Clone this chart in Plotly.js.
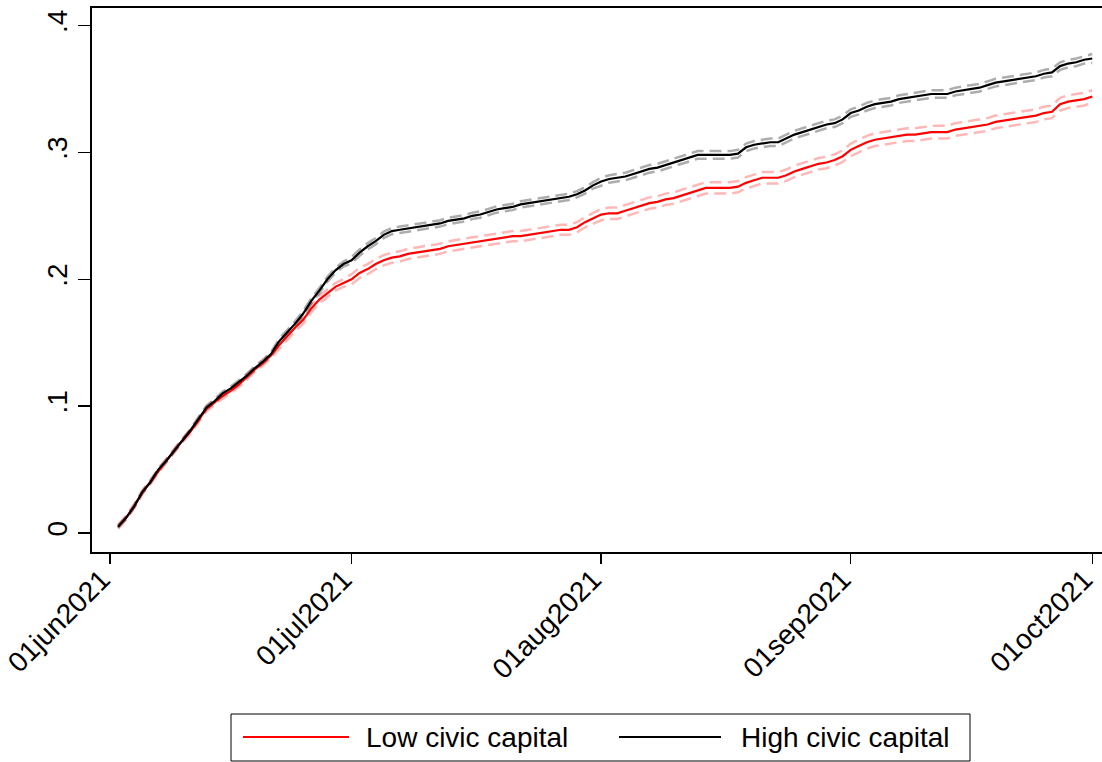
<!DOCTYPE html>
<html>
<head>
<meta charset="utf-8">
<script src="https://cdn.plot.ly/plotly-3.0.1.min.js"></script>
<style>
html,body{margin:0;padding:0;background:#fff;}
#chart{width:1102px;height:762px;}
</style>
</head>
<body>
<div id="chart"></div>
<script>
// Daily series, first day 2021-06-02, one point per day through 2021-10-01
const startDate = '2021-06-02';
const seriesNames = ['Low civic capital', 'High civic capital'];
const xTickVals = ['2021-06-01', '2021-07-01', '2021-08-01', '2021-09-01', '2021-10-01'];
const xTickText = ['01jun2021', '01jul2021', '01aug2021', '01sep2021', '01oct2021'];
const yTickVals = [0, 0.1, 0.2, 0.3, 0.4];
const yTickText = ['0', '.1', '.2', '.3', '.4'];

const lowCivic = [
  0.005,0.012,0.021,0.032,0.040,0.049,0.057,0.065,0.073,0.080,0.089,0.098,0.103,0.108,0.112,0.117,0.123,0.129,0.134,0.140,0.148,0.155,0.162,0.168,0.177,0.184,0.189,0.194,0.197,
  0.200,0.205,0.208,0.212,0.215,0.217,0.218,0.220,0.221,0.222,0.223,0.224,0.226,0.227,0.228,0.229,0.230,0.231,0.232,0.233,0.234,0.234,0.235,0.236,0.237,0.238,0.239,0.239,0.241,0.245,0.248,
  0.251,0.252,0.252,0.254,0.256,0.258,0.260,0.261,0.263,0.264,0.266,0.268,0.270,0.272,0.272,0.272,0.272,0.273,0.276,0.278,0.280,0.280,0.280,0.282,0.285,0.287,0.289,0.291,0.292,0.294,0.297,
  0.302,0.305,0.308,0.310,0.311,0.312,0.313,0.314,0.314,0.315,0.316,0.316,0.316,0.318,0.319,0.320,0.321,0.322,0.324,0.325,0.326,0.327,0.328,0.329,0.331,0.332,0.338,0.340,0.341,0.342,
  0.344
];
const highCivic = [
  0.005,0.012,0.021,0.032,0.040,0.050,0.057,0.065,0.073,0.081,0.090,0.099,0.104,0.110,0.114,0.119,0.124,0.130,0.135,0.141,0.151,0.158,0.165,0.173,0.183,0.191,0.200,0.207,0.212,
  0.215,0.221,0.226,0.230,0.235,0.238,0.239,0.240,0.241,0.242,0.243,0.244,0.246,0.247,0.248,0.250,0.251,0.253,0.255,0.256,0.257,0.259,0.260,0.261,0.262,0.263,0.264,0.265,0.267,0.270,0.274,
  0.277,0.279,0.280,0.281,0.283,0.285,0.287,0.288,0.290,0.292,0.294,0.296,0.298,0.298,0.298,0.298,0.298,0.299,0.304,0.306,0.307,0.308,0.308,0.311,0.314,0.316,0.318,0.320,0.322,0.323,0.326,
  0.331,0.333,0.336,0.338,0.339,0.340,0.342,0.343,0.344,0.345,0.346,0.346,0.346,0.348,0.349,0.350,0.351,0.353,0.355,0.356,0.357,0.358,0.359,0.360,0.362,0.363,0.368,0.370,0.371,0.373,
  0.374
];
// 95% CI half-widths
const lowCivicCI = [
  0.0015,0.0015,0.0015,0.0015,0.0015,0.0015,0.0015,0.0015,0.0015,0.0015,0.002,0.002,0.002,0.002,0.002,0.002,0.002,0.002,0.002,0.002,0.003,0.003,0.003,0.003,0.003,0.003,0.003,0.003,0.003,
  0.004,0.004,0.004,0.004,0.004,0.004,0.004,0.004,0.004,0.004,0.004,0.004,0.004,0.004,0.004,0.004,0.004,0.004,0.004,0.004,0.004,0.004,0.004,0.004,0.004,0.004,0.004,0.004,0.004,0.004,0.004,
  0.0045,0.0045,0.0045,0.0045,0.0045,0.0045,0.0045,0.0045,0.0045,0.0045,0.0045,0.0045,0.0045,0.0045,0.0045,0.0045,0.0045,0.0045,0.0045,0.0045,0.0045,0.0045,0.0045,0.0045,0.0045,0.0045,0.0045,0.0045,0.0045,0.0045,0.0045,
  0.005,0.005,0.005,0.005,0.005,0.005,0.005,0.005,0.005,0.005,0.005,0.005,0.005,0.005,0.005,0.005,0.005,0.005,0.005,0.005,0.005,0.005,0.005,0.005,0.005,0.005,0.005,0.005,0.005,0.005,
  0.005
];
const highCivicCI = [
  0.001,0.001,0.001,0.001,0.001,0.001,0.001,0.001,0.001,0.001,0.0015,0.0015,0.0015,0.0015,0.0015,0.0015,0.0015,0.0015,0.0015,0.0015,0.002,0.002,0.002,0.002,0.002,0.002,0.002,0.002,0.002,
  0.0025,0.0025,0.0025,0.0025,0.0025,0.0025,0.0025,0.0025,0.0025,0.0025,0.0025,0.0025,0.0025,0.0025,0.0025,0.0025,0.0025,0.0025,0.0025,0.0025,0.0025,0.0025,0.0025,0.0025,0.0025,0.0025,0.0025,0.0025,0.0025,0.0025,0.0025,
  0.003,0.003,0.003,0.003,0.003,0.003,0.003,0.003,0.003,0.003,0.003,0.003,0.003,0.003,0.003,0.003,0.003,0.003,0.003,0.003,0.003,0.003,0.003,0.003,0.003,0.003,0.003,0.003,0.003,0.003,0.003,
  0.003,0.003,0.003,0.003,0.003,0.003,0.003,0.003,0.003,0.003,0.003,0.003,0.003,0.003,0.003,0.003,0.003,0.003,0.003,0.003,0.003,0.003,0.003,0.003,0.003,0.003,0.003,0.003,0.003,0.003,
  0.0035
];

const DAY = 86400000;
const FONT = 'Liberation Sans, Arial, sans-serif';
const FS = 28;
const RED = '#ff0000', PINK = 'rgba(255,0,0,0.28)', GREY = 'rgba(0,0,0,0.32)';

function band(vals, ci, sign, color) {
  return {
    type: 'scatter', mode: 'lines', x0: startDate, dx: DAY,
    y: vals.map((v, i) => v + sign * ci[i]),
    line: {color: color, width: 2.5, dash: '12px,6px'},
    showlegend: false, hoverinfo: 'skip'
  };
}

const traces = [
  band(lowCivic, lowCivicCI, 1, PINK),
  band(lowCivic, lowCivicCI, -1, PINK),
  band(highCivic, highCivicCI, 1, GREY),
  band(highCivic, highCivicCI, -1, GREY),
  {type: 'scatter', mode: 'lines', name: seriesNames[0], x0: startDate, dx: DAY, y: lowCivic,
   line: {color: RED, width: 2.2}, showlegend: false},
  {type: 'scatter', mode: 'lines', name: seriesNames[1], x0: startDate, dx: DAY, y: highCivic,
   line: {color: '#000000', width: 2.2}, showlegend: false}
];

// plot area: x 92..1102, y 8..552
const px = p => (p - 92) / 1010;
const py = p => (552 - p) / 544;

const layout = {
  width: 1102, height: 762,
  margin: {l: 92, r: 0, t: 8, b: 210},
  paper_bgcolor: '#fff', plot_bgcolor: '#fff',
  font: {family: FONT, size: FS, color: '#000'},
  showlegend: false,
  xaxis: {
    type: 'date',
    range: ['2021-05-29 18:20', '2021-10-02 05:00'],
    tickvals: xTickVals, ticktext: xTickText, tickangle: -45,
    ticklabeloverflow: 'allow', ticklabelshift: -8, ticklabelstandoff: -12,
    ticks: 'outside', ticklen: 10, tickwidth: 1.5, tickcolor: '#000',
    showline: true, linecolor: '#000', linewidth: 2, mirror: true,
    showgrid: false, zeroline: false,
    tickfont: {family: FONT, size: FS, color: '#000'}
  },
  yaxis: {
    range: [-0.01497, 0.4138],
    tickvals: yTickVals, ticktext: yTickText, tickangle: -90,
    ticks: 'outside', ticklen: 12, tickwidth: 1.5, tickcolor: '#000',
    showline: true, linecolor: '#000', linewidth: 2, mirror: false,
    showgrid: false, zeroline: false,
    tickfont: {family: FONT, size: FS, color: '#000'}
  },
  shapes: [
    {type: 'rect', xref: 'paper', yref: 'paper', x0: px(231), x1: px(970), y0: py(761), y1: py(714),
     line: {color: '#000', width: 1}, fillcolor: 'rgba(0,0,0,0)'},
    {type: 'line', xref: 'paper', yref: 'paper', x0: px(243), x1: px(349), y0: py(737), y1: py(737),
     line: {color: RED, width: 2}},
    {type: 'line', xref: 'paper', yref: 'paper', x0: px(619), x1: px(721), y0: py(737), y1: py(737),
     line: {color: '#000', width: 2}}
  ],
  annotations: [
    {xref: 'paper', yref: 'paper', x: px(364), y: py(737), xanchor: 'left', yanchor: 'middle',
     text: seriesNames[0], showarrow: false, font: {family: FONT, size: FS, color: '#000'}},
    {xref: 'paper', yref: 'paper', x: px(739), y: py(737), xanchor: 'left', yanchor: 'middle',
     text: seriesNames[1], showarrow: false, font: {family: FONT, size: FS, color: '#000'}}
  ]
};

Plotly.newPlot('chart', traces, layout, {staticPlot: true, displayModeBar: false});
</script>
</body>
</html>
